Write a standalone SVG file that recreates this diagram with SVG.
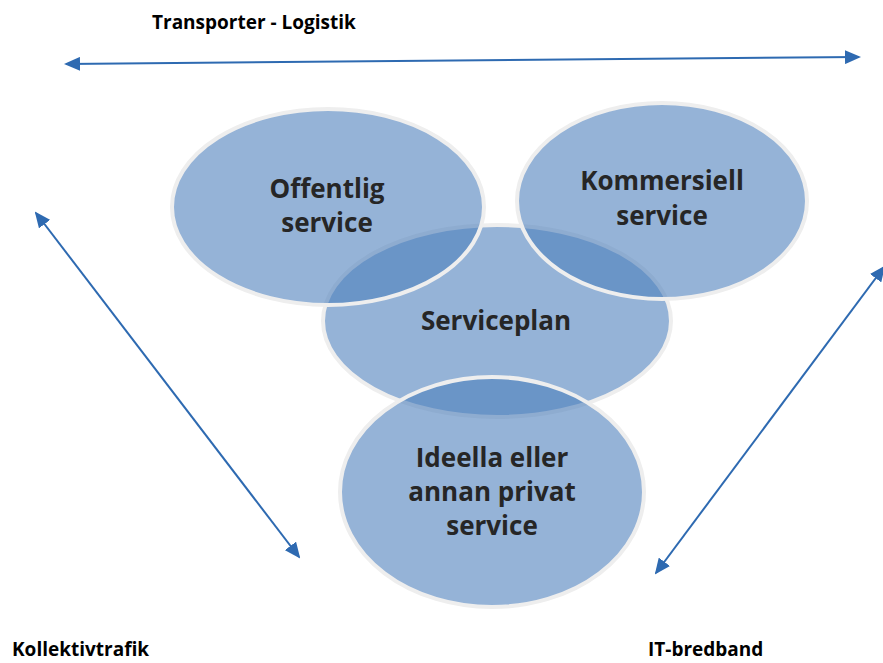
<svg xmlns="http://www.w3.org/2000/svg" width="883" height="663" viewBox="0 0 883 663">
  <style>
    .bubble { fill: #4F81BD; fill-opacity: 0.6; stroke: #EEEEEE; stroke-width: 4; }
    .label { font-family: "Open Sans", "Liberation Sans", sans-serif; font-weight: 700; font-size: 26px; fill: #262626; text-anchor: middle; }
    .side { font-family: "Open Sans", "Liberation Sans", sans-serif; font-weight: 700; font-size: 19px; fill: #000000; }
    .link { stroke: #2E6AB1; stroke-width: 2; fill: none; marker-start: url(#head); marker-end: url(#head); }
  </style>
  <defs>
    <marker id="head" viewBox="0 0 16 14" refX="14" refY="7" markerWidth="16" markerHeight="14" markerUnits="userSpaceOnUse" orient="auto-start-reverse">
      <path d="M0,0 L16,7 L0,14 Z" fill="#2E6AB1"/>
    </marker>
  </defs>
  <rect width="883" height="663" fill="#FFFFFF"/>

  <!-- outer labels -->
  <text class="side" x="152" y="29">Transporter - Logistik</text>
  <text class="side" x="12" y="656">Kollektivtrafik</text>
  <text class="side" x="648" y="656">IT-bredband</text>

  <!-- connectors -->
  <g id="connectors">
    <line class="link" x1="66" y1="64" x2="859" y2="57"/>
    <line class="link" x1="36" y1="213" x2="299" y2="557"/>
    <line class="link" x1="656" y1="573" x2="884" y2="267"/>
  </g>

  <!-- central plan, drawn first so the others overlay it -->
  <g id="serviceplan">
    <ellipse class="bubble" cx="497" cy="321" rx="174" ry="96"/>
    <text class="label" x="496" y="330">Serviceplan</text>
  </g>

  <g id="offentlig">
    <ellipse class="bubble" cx="328" cy="207" rx="156" ry="98"/>
    <text class="label" x="327" y="198">Offentlig</text>
    <text class="label" x="327" y="232">service</text>
  </g>

  <g id="kommersiell">
    <ellipse class="bubble" cx="662" cy="201" rx="145" ry="98"/>
    <text class="label" x="662" y="190">Kommersiell</text>
    <text class="label" x="662" y="225">service</text>
  </g>

  <g id="ideella">
    <ellipse class="bubble" cx="492" cy="492" rx="152" ry="115"/>
    <text class="label" x="492" y="467">Ideella eller</text>
    <text class="label" x="492" y="501">annan privat</text>
    <text class="label" x="492" y="535">service</text>
  </g>
</svg>
